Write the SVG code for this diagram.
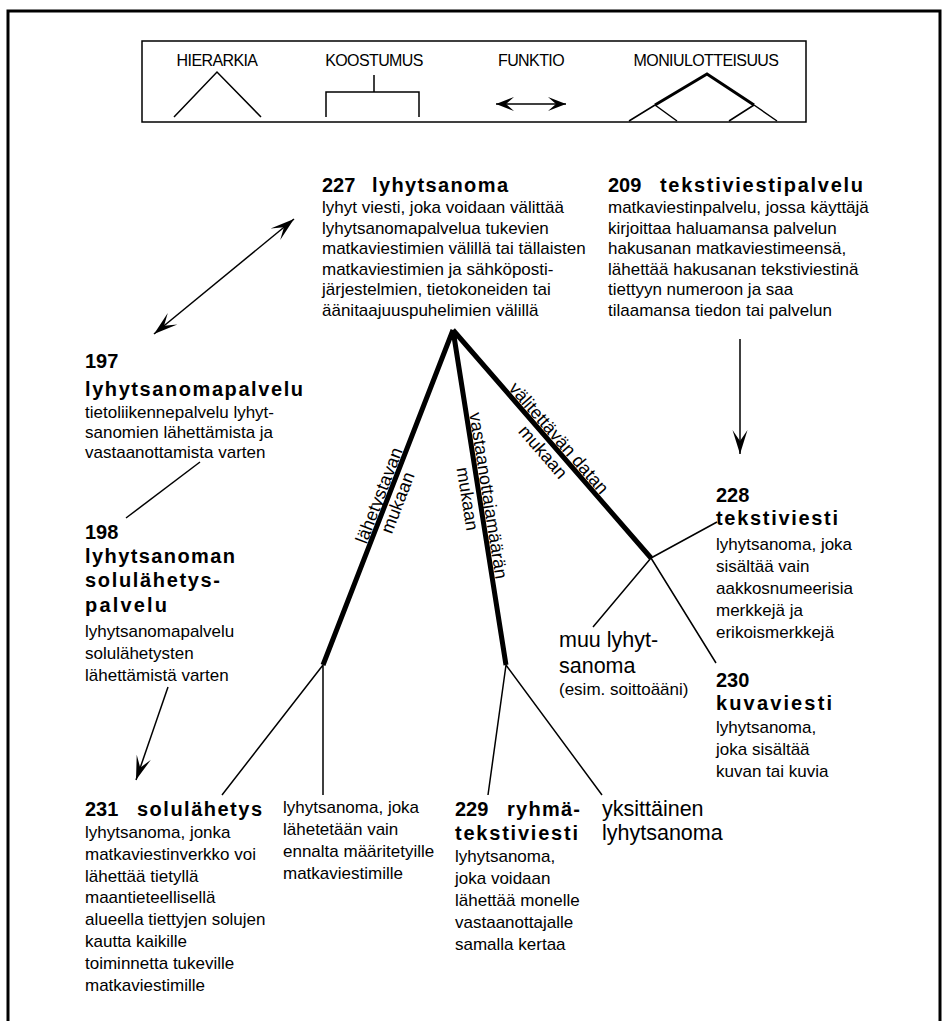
<svg xmlns="http://www.w3.org/2000/svg" width="949" height="1021" viewBox="0 0 949 1021">
<style>
text{font-family:"Liberation Sans",Arial,sans-serif;fill:#000}
.d{font-size:17px}
.t{font-size:20px;font-weight:bold}
.b{font-size:21.5px}
.r{font-size:18px}
.lg{font-size:16px;letter-spacing:-0.6px}
.thin{stroke:#000;stroke-width:1.5;fill:none}
.thick{stroke:#000;stroke-width:5;fill:none;stroke-linecap:butt}
</style>
<defs>
<marker id="ah" viewBox="-26 -9 28 18" markerWidth="28" markerHeight="18" refX="0" refY="0" orient="auto-start-reverse" markerUnits="userSpaceOnUse"><path d="M0,0 L-24,-7.5 L-13,0 L-24,7.5 Z" fill="#000"/></marker>
<marker id="ahs" viewBox="-20 -8 21 16" markerWidth="21" markerHeight="16" refX="0" refY="0" orient="auto-start-reverse" markerUnits="userSpaceOnUse"><path d="M0,0 L-18,-7 L-10,0 L-18,7 Z" fill="#000"/></marker>
</defs>
<rect width="949" height="1021" fill="#fff"/>
<path d="M8,1021 V11 H940 V1021" fill="none" stroke="#000" stroke-width="3"/>

<g id="legend">
<rect x="142" y="41" width="664" height="81" fill="none" stroke="#000" stroke-width="1.5"/>
<text class="lg" x="217" y="66" text-anchor="middle">HIERARKIA</text>
<path class="thin" d="M174,117 L217,72 L261,117"/>
<text class="lg" x="374" y="66" text-anchor="middle">KOOSTUMUS</text>
<path class="thin" d="M374,75 V92 M326,117 V92 H419 V117"/>
<text class="lg" x="531" y="66" text-anchor="middle">FUNKTIO</text>
<line class="thin" x1="496" y1="104" x2="566" y2="104" marker-start="url(#ahs)" marker-end="url(#ahs)"/>
<text class="lg" x="706" y="66" text-anchor="middle">MONIULOTTEISUUS</text>
<path d="M655,105 L707,74 L754,105" fill="none" stroke="#000" stroke-width="3"/>
<path class="thin" d="M655,105 L629,121 M655,105 L677,121 M754,105 L729,121 M754,105 L777,121"/>
</g>

<g id="connectors">
<path class="thick" d="M453,330 L323,665 M453,330 L506,665 M453,330 L651,558"/>
<path class="thin" d="M323,665 L222,795 M323,665 L323,795 M506,665 L488,795 M506,665 L602,795 M651,558 L717,522 M651,558 L593,627 M651,558 L716,663"/>
<line class="thin" x1="154" y1="334" x2="294" y2="219" marker-start="url(#ah)" marker-end="url(#ah)"/>
<line class="thin" x1="740" y1="339" x2="740" y2="454" marker-end="url(#ah)"/>
<line class="thin" x1="168" y1="687" x2="136" y2="780" marker-end="url(#ah)"/>
<line class="thin" x1="200" y1="462" x2="126" y2="518"/>
<text class="r" transform="translate(387.5,498.7) rotate(-68.8)" text-anchor="middle"><tspan x="0" y="-3">lähetystavan</tspan><tspan x="0" y="17">mukaan</tspan></text>
<text class="r" transform="translate(479.4,497) rotate(81)" text-anchor="middle"><tspan x="0" y="-3">vastaanottajamäärän</tspan><tspan x="0" y="18">mukaan</tspan></text>
<text class="r" transform="translate(552,444) rotate(49)" text-anchor="middle"><tspan x="0" y="-3">välitettävän datan</tspan><tspan x="0" y="18">mukaan</tspan></text>
</g>

<g id="n227">
<text class="t" y="192"><tspan x="322">227</tspan><tspan x="372" textLength="136" lengthAdjust="spacing">lyhytsanoma</tspan></text>
<text class="d"><tspan x="322" y="213">lyhyt viesti, joka voidaan välittää</tspan><tspan x="322" y="233.5">lyhytsanomapalvelua tukevien</tspan><tspan x="322" y="254">matkaviestimien välillä tai tällaisten</tspan><tspan x="322" y="274.5">matkaviestimien ja sähköposti-</tspan><tspan x="322" y="295">järjestelmien, tietokoneiden tai</tspan><tspan x="322" y="315.5">äänitaajuuspuhelimien välillä</tspan></text>
</g>

<g id="n209">
<text class="t" y="192"><tspan x="608">209</tspan><tspan x="660" textLength="203" lengthAdjust="spacing">tekstiviestipalvelu</tspan></text>
<text class="d"><tspan x="608" y="213">matkaviestinpalvelu, jossa käyttäjä</tspan><tspan x="608" y="233.5">kirjoittaa haluamansa palvelun</tspan><tspan x="608" y="254">hakusanan matkaviestimeensä,</tspan><tspan x="608" y="274.5">lähettää hakusanan tekstiviestinä</tspan><tspan x="608" y="295">tiettyyn numeroon ja saa</tspan><tspan x="608" y="315.5">tilaamansa tiedon tai palvelun</tspan></text>
</g>

<g id="n197">
<text class="t"><tspan x="85" y="368">197</tspan><tspan x="85" y="396" textLength="218" lengthAdjust="spacing">lyhytsanomapalvelu</tspan></text>
<text class="d"><tspan x="85" y="418">tietoliikennepalvelu lyhyt-</tspan><tspan x="85" y="438">sanomien lähettämista ja</tspan><tspan x="85" y="458">vastaanottamista varten</tspan></text>
</g>

<g id="n198">
<text class="t"><tspan x="85" y="539">198</tspan><tspan x="85" y="563" textLength="150" lengthAdjust="spacing">lyhytsanoman</tspan><tspan x="85" y="587" textLength="135" lengthAdjust="spacing">solulähetys-</tspan><tspan x="85" y="612" textLength="82" lengthAdjust="spacing">palvelu</tspan></text>
<text class="d"><tspan x="85" y="637">lyhytsanomapalvelu</tspan><tspan x="85" y="659">solulähetysten</tspan><tspan x="85" y="681">lähettämistä varten</tspan></text>
</g>

<g id="n231">
<text class="t" y="816"><tspan x="85">231</tspan><tspan x="137" textLength="125" lengthAdjust="spacing">solulähetys</tspan></text>
<text class="d"><tspan x="85" y="838">lyhytsanoma, jonka</tspan><tspan x="85" y="860">matkaviestinverkko voi</tspan><tspan x="85" y="881.5">lähettää tietyllä</tspan><tspan x="85" y="903">maantieteellisellä</tspan><tspan x="85" y="925">alueella tiettyjen solujen</tspan><tspan x="85" y="947">kautta kaikille</tspan><tspan x="85" y="969">toiminnetta tukeville</tspan><tspan x="85" y="991">matkaviestimille</tspan></text>
</g>

<g id="n-ennalta">
<text class="d"><tspan x="283" y="813">lyhytsanoma, joka</tspan><tspan x="283" y="835">lähetetään vain</tspan><tspan x="283" y="857">ennalta määritetyille</tspan><tspan x="283" y="879">matkaviestimille</tspan></text>
</g>

<g id="n229">
<text class="t"><tspan x="455" y="816">229</tspan><tspan x="507" y="816" textLength="73" lengthAdjust="spacing">ryhmä-</tspan><tspan x="455" y="840" textLength="123" lengthAdjust="spacing">tekstiviesti</tspan></text>
<text class="d"><tspan x="455" y="862">lyhytsanoma,</tspan><tspan x="455" y="884">joka voidaan</tspan><tspan x="455" y="906">lähettää monelle</tspan><tspan x="455" y="928">vastaanottajalle</tspan><tspan x="455" y="950">samalla kertaa</tspan></text>
</g>

<g id="n-yksittainen">
<text class="b"><tspan x="602" y="816">yksittäinen</tspan><tspan x="602" y="840">lyhytsanoma</tspan></text>
</g>

<g id="n228">
<text class="t"><tspan x="716" y="502">228</tspan><tspan x="716" y="525" textLength="122" lengthAdjust="spacing">tekstiviesti</tspan></text>
<text class="d"><tspan x="716" y="550">lyhytsanoma, joka</tspan><tspan x="716" y="572">sisältää vain</tspan><tspan x="716" y="594">aakkosnumeerisia</tspan><tspan x="716" y="616">merkkejä ja</tspan><tspan x="716" y="638">erikoismerkkejä</tspan></text>
</g>

<g id="n-muu">
<text class="b"><tspan x="559" y="647">muu lyhyt-</tspan><tspan x="559" y="673">sanoma</tspan></text>
<text class="d" x="559" y="695">(esim. soittoääni)</text>
</g>

<g id="n230">
<text class="t"><tspan x="716" y="687">230</tspan><tspan x="716" y="710" textLength="116" lengthAdjust="spacing">kuvaviesti</tspan></text>
<text class="d"><tspan x="716" y="733">lyhytsanoma,</tspan><tspan x="716" y="755">joka sisältää</tspan><tspan x="716" y="777">kuvan tai kuvia</tspan></text>
</g>
</svg>
